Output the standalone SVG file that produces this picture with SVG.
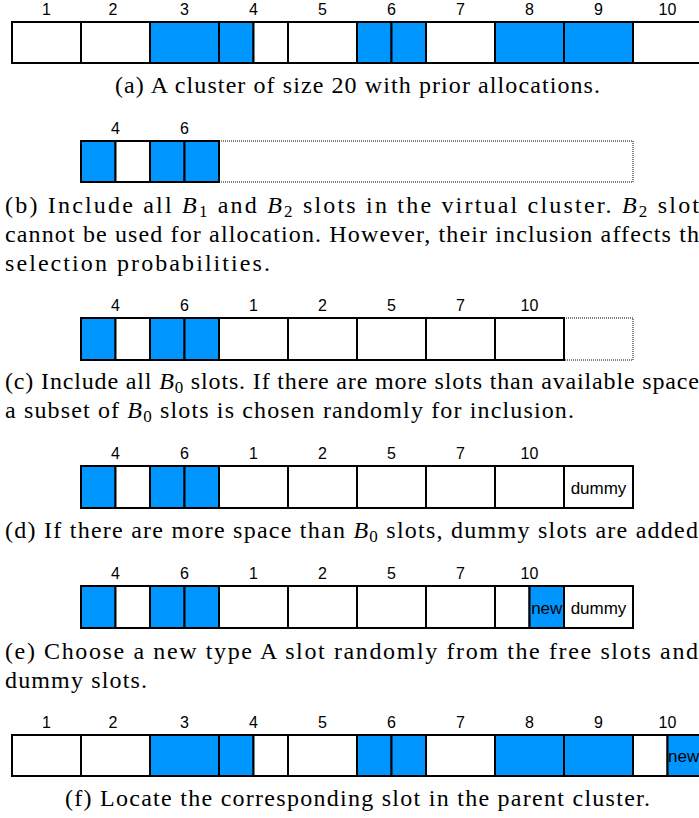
<svg xmlns="http://www.w3.org/2000/svg" width="699" height="818" viewBox="0 0 699 818">
<style>
.w{fill:#ffffff;stroke:#000;stroke-width:2}
.b{fill:#0096ff;stroke:#000;stroke-width:2}
.dot{fill:none;stroke:#000;stroke-width:1;stroke-dasharray:1 1}
.lab{font-family:"Liberation Sans",Arial,sans-serif;font-size:16px;fill:#000;text-anchor:middle}
.in{font-family:"Liberation Sans",Arial,sans-serif;font-size:17px;fill:#000}
.cap{font-family:"Liberation Serif","Times New Roman",serif;font-size:24px;fill:#000}
.i{font-style:italic}
.s{font-size:17px}
</style>
<rect width="699" height="818" fill="#fff"/>

<g id="panel-a">
<rect class="w" x="12" y="22" width="69" height="41"/>
<rect class="w" x="81" y="22" width="69" height="41"/>
<rect class="b" x="150" y="22" width="69" height="41"/>
<rect class="b" x="219" y="22" width="34.5" height="41"/>
<rect class="w" x="253.5" y="22" width="34.5" height="41"/>
<rect class="w" x="288" y="22" width="69" height="41"/>
<rect class="b" x="357" y="22" width="34.5" height="41"/>
<rect class="b" x="391.5" y="22" width="34.5" height="41"/>
<rect class="w" x="426" y="22" width="69" height="41"/>
<rect class="b" x="495" y="22" width="69" height="41"/>
<rect class="b" x="564" y="22" width="69" height="41"/>
<rect class="w" x="633" y="22" width="69" height="41"/>
<text class="lab" x="46.5" y="15">1</text>
<text class="lab" x="113" y="15">2</text>
<text class="lab" x="184.5" y="15">3</text>
<text class="lab" x="253.5" y="15">4</text>
<text class="lab" x="322.5" y="15">5</text>
<text class="lab" x="391.5" y="15">6</text>
<text class="lab" x="460.5" y="15">7</text>
<text class="lab" x="529.5" y="15">8</text>
<text class="lab" x="598.5" y="15">9</text>
<text class="lab" x="667.5" y="15">10</text>
<text class="cap" x="115" y="93" textLength="485" lengthAdjust="spacing">(a) A cluster of size 20 with prior allocations.</text>
</g>

<g id="panel-b">
<rect class="dot" x="219" y="141" width="414" height="41"/>
<rect class="b" x="81" y="141" width="34.5" height="41"/>
<rect class="w" x="115.5" y="141" width="34.5" height="41"/>
<rect class="b" x="150" y="141" width="34.5" height="41"/>
<rect class="b" x="184.5" y="141" width="34.5" height="41"/>
<text class="lab" x="115.5" y="134">4</text>
<text class="lab" x="184.5" y="134">6</text>
<text class="cap" x="5" y="213" textLength="694" lengthAdjust="spacing">(b) Include all <tspan class="i">B</tspan><tspan class="s" dy="4">1</tspan><tspan dy="-4"> and </tspan><tspan class="i">B</tspan><tspan class="s" dy="4">2</tspan><tspan dy="-4"> slots in the virtual cluster. </tspan><tspan class="i">B</tspan><tspan class="s" dy="4">2</tspan><tspan dy="-4"> slot</tspan></text>
<text class="cap" x="5" y="242" textLength="694" lengthAdjust="spacing">cannot be used for allocation. However, their inclusion affects th</text>
<text class="cap" x="5" y="271" textLength="265" lengthAdjust="spacing">selection probabilities.</text>
</g>

<g id="panel-c">
<rect class="dot" x="564" y="318" width="69" height="42"/>
<rect class="b" x="81" y="318" width="34.5" height="42"/>
<rect class="w" x="115.5" y="318" width="34.5" height="42"/>
<rect class="b" x="150" y="318" width="34.5" height="42"/>
<rect class="b" x="184.5" y="318" width="34.5" height="42"/>
<rect class="w" x="219" y="318" width="69" height="42"/>
<rect class="w" x="288" y="318" width="69" height="42"/>
<rect class="w" x="357" y="318" width="69" height="42"/>
<rect class="w" x="426" y="318" width="69" height="42"/>
<rect class="w" x="495" y="318" width="69" height="42"/>
<text class="lab" x="115.5" y="311">4</text>
<text class="lab" x="184.5" y="311">6</text>
<text class="lab" x="253.5" y="311">1</text>
<text class="lab" x="322.5" y="311">2</text>
<text class="lab" x="391.5" y="311">5</text>
<text class="lab" x="460.5" y="311">7</text>
<text class="lab" x="529.5" y="311">10</text>
<text class="cap" x="5" y="389" textLength="694" lengthAdjust="spacing">(c) Include all <tspan class="i">B</tspan><tspan class="s" dy="4">0</tspan><tspan dy="-4"> slots. If there are more slots than available space</tspan></text>
<text class="cap" x="5" y="418" textLength="569" lengthAdjust="spacing">a subset of <tspan class="i">B</tspan><tspan class="s" dy="4">0</tspan><tspan dy="-4"> slots is chosen randomly for inclusion.</tspan></text>
</g>

<g id="panel-d">
<rect class="b" x="81" y="466" width="34.5" height="42"/>
<rect class="w" x="115.5" y="466" width="34.5" height="42"/>
<rect class="b" x="150" y="466" width="34.5" height="42"/>
<rect class="b" x="184.5" y="466" width="34.5" height="42"/>
<rect class="w" x="219" y="466" width="69" height="42"/>
<rect class="w" x="288" y="466" width="69" height="42"/>
<rect class="w" x="357" y="466" width="69" height="42"/>
<rect class="w" x="426" y="466" width="69" height="42"/>
<rect class="w" x="495" y="466" width="69" height="42"/>
<rect class="w" x="564" y="466" width="69" height="42"/>
<text class="in" x="598.5" y="494" text-anchor="middle">dummy</text>
<text class="lab" x="115.5" y="459">4</text>
<text class="lab" x="184.5" y="459">6</text>
<text class="lab" x="253.5" y="459">1</text>
<text class="lab" x="322.5" y="459">2</text>
<text class="lab" x="391.5" y="459">5</text>
<text class="lab" x="460.5" y="459">7</text>
<text class="lab" x="529.5" y="459">10</text>
<text class="cap" x="5" y="538" textLength="693" lengthAdjust="spacing">(d) If there are more space than <tspan class="i">B</tspan><tspan class="s" dy="4">0</tspan><tspan dy="-4"> slots, dummy slots are added</tspan></text>
</g>

<g id="panel-e">
<rect class="b" x="81" y="586" width="34.5" height="42"/>
<rect class="w" x="115.5" y="586" width="34.5" height="42"/>
<rect class="b" x="150" y="586" width="34.5" height="42"/>
<rect class="b" x="184.5" y="586" width="34.5" height="42"/>
<rect class="w" x="219" y="586" width="69" height="42"/>
<rect class="w" x="288" y="586" width="69" height="42"/>
<rect class="w" x="357" y="586" width="69" height="42"/>
<rect class="w" x="426" y="586" width="69" height="42"/>
<rect class="w" x="495" y="586" width="34.5" height="42"/>
<rect class="b" x="529.5" y="586" width="34.5" height="42"/>
<rect class="w" x="564" y="586" width="69" height="42"/>
<text class="in" x="546.75" y="614" text-anchor="middle">new</text>
<text class="in" x="598.5" y="614" text-anchor="middle">dummy</text>
<text class="lab" x="115.5" y="579">4</text>
<text class="lab" x="184.5" y="579">6</text>
<text class="lab" x="253.5" y="579">1</text>
<text class="lab" x="322.5" y="579">2</text>
<text class="lab" x="391.5" y="579">5</text>
<text class="lab" x="460.5" y="579">7</text>
<text class="lab" x="529.5" y="579">10</text>
<text class="cap" x="5" y="659" textLength="693" lengthAdjust="spacing">(e) Choose a new type A slot randomly from the free slots and</text>
<text class="cap" x="5" y="688" textLength="142" lengthAdjust="spacing">dummy slots.</text>
</g>

<g id="panel-f">
<rect class="w" x="12" y="735" width="69" height="41"/>
<rect class="w" x="81" y="735" width="69" height="41"/>
<rect class="b" x="150" y="735" width="69" height="41"/>
<rect class="b" x="219" y="735" width="34.5" height="41"/>
<rect class="w" x="253.5" y="735" width="34.5" height="41"/>
<rect class="w" x="288" y="735" width="69" height="41"/>
<rect class="b" x="357" y="735" width="34.5" height="41"/>
<rect class="b" x="391.5" y="735" width="34.5" height="41"/>
<rect class="w" x="426" y="735" width="69" height="41"/>
<rect class="b" x="495" y="735" width="69" height="41"/>
<rect class="b" x="564" y="735" width="69" height="41"/>
<rect class="w" x="633" y="735" width="34.5" height="41"/>
<rect class="b" x="667.5" y="735" width="34.5" height="41"/>
<text class="in" x="668" y="762">new</text>
<text class="lab" x="46.5" y="728">1</text>
<text class="lab" x="113" y="728">2</text>
<text class="lab" x="184.5" y="728">3</text>
<text class="lab" x="253.5" y="728">4</text>
<text class="lab" x="322.5" y="728">5</text>
<text class="lab" x="391.5" y="728">6</text>
<text class="lab" x="460.5" y="728">7</text>
<text class="lab" x="529.5" y="728">8</text>
<text class="lab" x="598.5" y="728">9</text>
<text class="lab" x="667.5" y="728">10</text>
<text class="cap" x="65" y="806" textLength="585" lengthAdjust="spacing">(f) Locate the corresponding slot in the parent cluster.</text>
</g>
</svg>
